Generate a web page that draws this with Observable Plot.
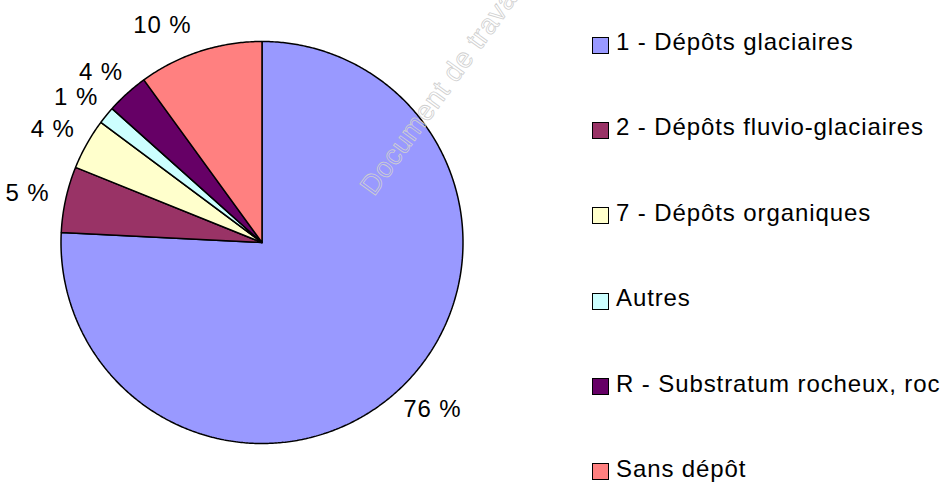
<!DOCTYPE html>
<html>
<head>
<meta charset="utf-8">
<script src="https://cdn.jsdelivr.net/npm/d3@7"></script>
<script src="https://cdn.jsdelivr.net/npm/@observablehq/plot@0.6"></script>
<style>
  html, body { margin: 0; padding: 0; background: #fff; }
  #wrap { position: relative; width: 945px; height: 485px; overflow: hidden; font-family: "Liberation Sans", Arial, sans-serif; }
  #wrap svg { position: absolute; left: 0; top: 0; }
  #legend { position: absolute; left: 592px; top: -0.7px; }
  .row { display: flex; align-items: center; height: 85.4px; font-size: 24px; letter-spacing: 0.9px; color: #000; white-space: nowrap; }
  .sw { width: 15px; height: 15px; border: 1.5px solid #000; margin-right: 7px; position: relative; top: 3px; flex: none; }
</style>
</head>
<body>
<div id="wrap"></div>
<script>
const categories = [
  "1 - Dépôts glaciaires",
  "2 - Dépôts fluvio-glaciaires",
  "7 - Dépôts organiques",
  "Autres",
  "R - Substratum rocheux, roc",
  "Sans dépôt"
];
const values = [75.8, 5.3, 4.1, 1.4, 3.4, 10.0];
const labels = ["76 %", "5 %", "4 %", "1 %", "4 %", "10 %"];
const colors = ["#9999FF", "#993366", "#FFFFCC", "#CCFFFF", "#660066", "#FF8080"];
const watermark = "Document de travail";

const cx = 261.5, cy = 242, R = 201;
const fontPx = 24, spacing = 0.9;

// pie geometry via d3.pie (clockwise from 12 o'clock)
const arcs = d3.pie().sort(null).value(d => d)(values);
const slicePts = [];
arcs.forEach((a, i) => {
  const cat = categories[i];
  slicePts.push({cat, x: 0, y: 0});
  const n = Math.max(2, Math.ceil((a.endAngle - a.startAngle) / (Math.PI / 360)));
  for (let k = 0; k <= n; k++) {
    const t = a.startAngle + (a.endAngle - a.startAngle) * k / n;
    slicePts.push({cat, x: Math.sin(t), y: Math.cos(t)});
  }
  slicePts.push({cat, x: 0, y: 0});
});

// outside-end labels: box offset from the rim along the mid-angle
const ctx = document.createElement("canvas").getContext("2d");
ctx.font = `${fontPx}px "Liberation Sans", Arial, sans-serif`;
const gap = 17, hh = 12;
const labelPts = arcs.map((a, i) => {
  const m = (a.startAngle + a.endAngle) / 2;
  const hw = (ctx.measureText(labels[i]).width + spacing * labels[i].length) / 2;
  const ux = Math.sin(m), uy = Math.cos(m);
  let px = ux * (R + gap + hw);
  let py = uy * (R + gap + hh);          // upward positive
  const maxUp = cy - 25;                  // keep label inside the chart area
  if (py > maxUp) { py = maxUp; px = px - hw * 0.8; }
  return {text: labels[i], x: px / R, y: py / R};
});

const chart = Plot.plot({
  width: 945,
  height: 485,
  margin: 0,
  style: {fontFamily: "Liberation Sans, Arial, sans-serif", background: "#fff", letterSpacing: spacing + "px"},
  x: {domain: [-1, 1], range: [cx - R, cx + R], axis: null},
  y: {domain: [-1, 1], range: [cy + R, cy - R], axis: null},
  color: {domain: categories, range: colors},
  marks: [
    Plot.line(slicePts, {x: "x", y: "y", z: "cat", fill: "cat", stroke: "#000", strokeWidth: 1.5, strokeLinejoin: "miter", curve: "linear"}),
    Plot.text(labelPts, {x: "x", y: "y", text: "text", fontSize: fontPx, fill: "#000", textAnchor: "middle", lineAnchor: "middle"})
  ]
});
const wrap = document.getElementById("wrap");
wrap.appendChild(chart);

// watermark
d3.select(chart).append("text")
  .attr("transform", "translate(374,197) rotate(-54)")
  .attr("text-anchor", "start")
  .attr("font-size", 28)
  .attr("fill", "none")
  .attr("stroke", "#cfcfcf")
  .attr("stroke-width", 0.8)
  .style("letter-spacing", "0.5px")
  .text(watermark);

const legend = document.createElement("div");
legend.id = "legend";
categories.forEach((c, i) => {
  const row = document.createElement("div");
  row.className = "row";
  const sw = document.createElement("span");
  sw.className = "sw";
  sw.style.background = colors[i];
  const tx = document.createElement("span");
  tx.textContent = c;
  row.appendChild(sw);
  row.appendChild(tx);
  legend.appendChild(row);
});
wrap.appendChild(legend);
</script>
</body>
</html>
